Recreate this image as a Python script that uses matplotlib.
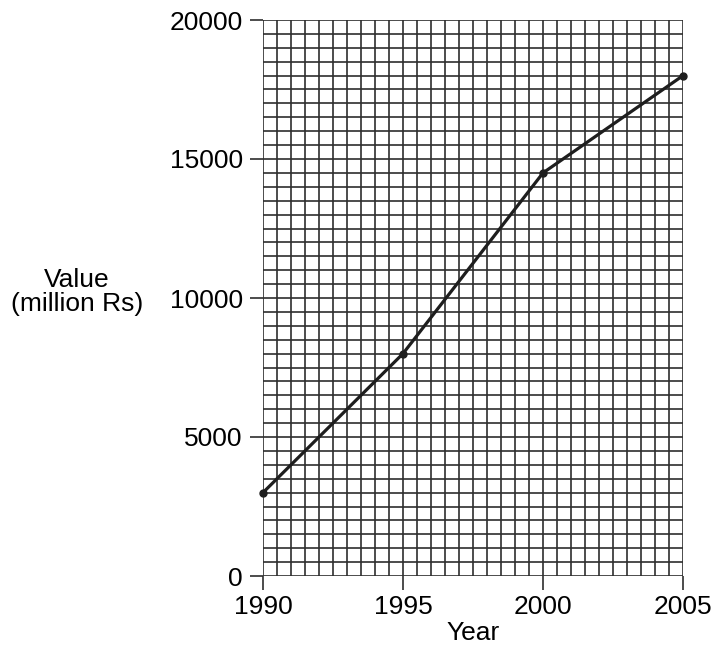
import numpy as np
from matplotlib import pyplot as plt

plt.rcParams['font.family'] = ['Liberation Sans', 'DejaVu Sans']

years = [1990, 1995, 2000, 2005]
values = [3000, 8000, 14500, 18000]
x_ticks = [1990, 1995, 2000, 2005]
y_ticks = [0, 5000, 10000, 15000, 20000]

fig = plt.figure(figsize=(7.12, 6.53), dpi=100)
ax = fig.add_axes((263 / 712, 77 / 653, 420 / 712, 556 / 653))

ax.set_xlim(1990, 2005)
ax.set_ylim(0, 20000)
ax.set_xticks(x_ticks)
ax.set_yticks(y_ticks)
# fine graph-paper grid: half years, 500 units
ax.set_xticks(np.arange(1990, 2005.01, 0.5), minor=True)
ax.set_yticks(np.arange(0, 20000.1, 500), minor=True)
ax.grid(which='both', color='#2e2e2e', linewidth=1.2)
ax.set_axisbelow(True)

for s in ax.spines.values():
    s.set_visible(False)

ax.tick_params(which='minor', length=0)
ax.tick_params(axis='y', which='major', length=9.5, width=1.2, color='#2e2e2e',
               labelsize=19, pad=5)
ax.tick_params(axis='x', which='major', length=10, width=1.2, color='#2e2e2e',
               labelsize=19, pad=4)

ax.plot(years, values, color='#1e1e1e', linewidth=2.3, marker='o', markersize=5,
        clip_on=False, zorder=5)

ax.set_xlabel('Year', fontsize=19, labelpad=1)
fig.text(77 / 712, 1 - 292 / 653, 'Value\n(million Rs)', ha='center', va='center',
         fontsize=19, linespacing=1.05)

fig.savefig('out.png', dpi=100)
